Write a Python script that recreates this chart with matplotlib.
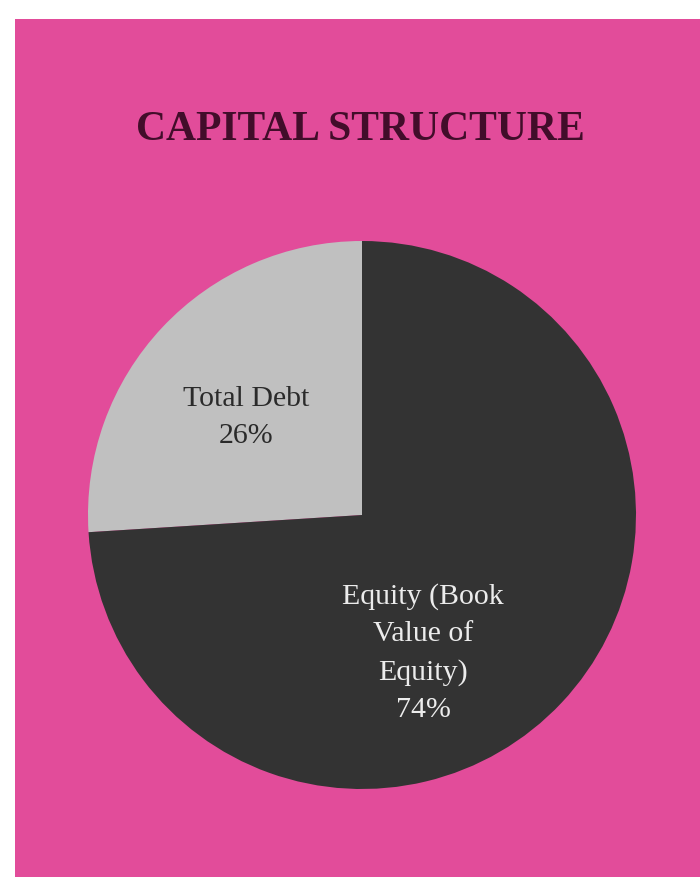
import matplotlib
matplotlib.use("Agg")
import matplotlib.pyplot as plt
from matplotlib.patches import Rectangle

# Capital structure split (percent of total capital)
categories = ["Total Debt", "Equity (Book\nValue of\nEquity)"]
shares = [26, 74]
slice_colors = ["#c0c0c0", "#333333"]
label_colors = ["#2a2a2a", "#ececec"]
title = "CAPITAL STRUCTURE"

W, H = 700, 878
fig = plt.figure(figsize=(W / 100, H / 100), dpi=100)
fig.patch.set_facecolor("white")

# pink panel behind everything, drawn in its own background axes
bg = fig.add_axes([0, 0, 1, 1], zorder=-5)
bg.set_xlim(0, W)
bg.set_ylim(H, 0)
bg.axis("off")
bg.add_patch(Rectangle((15, 20), W - 15, H - 20, facecolor="#e24c9a",
                       edgecolor="none"))

fig.text(360 / W, 1 - 130 / H, title, ha="center", va="center",
         fontsize=30, fontweight="bold", family="Liberation Serif",
         color="#420d2a", zorder=5)

# pie axes: centre (362, 516) px, radius 274 px
cx, cy, r = 362, 516, 274
ax = fig.add_axes([(cx - r) / W, 1 - (cy + r) / H, 2 * r / W, 2 * r / H])
ax.set_facecolor("none")
wedges, _ = ax.pie(shares, colors=slice_colors, startangle=90,
                   counterclock=True, radius=1.0,
                   wedgeprops=dict(linewidth=0))
ax.set_xlim(-1, 1)
ax.set_ylim(-1, 1)
ax.set_aspect("equal")
ax.axis("off")

# label anchors in pie-radius units
label_pos = [(-0.423, 0.36), (0.223, -0.50)]
for name, val, (lx, ly), c in zip(categories, shares, label_pos, label_colors):
    ax.text(lx, ly, f"{name}\n{val}%", ha="center", va="center",
            fontsize=21.5, family="Liberation Serif", color=c,
            linespacing=1.55)

fig.savefig("out.png", dpi=100, facecolor=fig.get_facecolor())
